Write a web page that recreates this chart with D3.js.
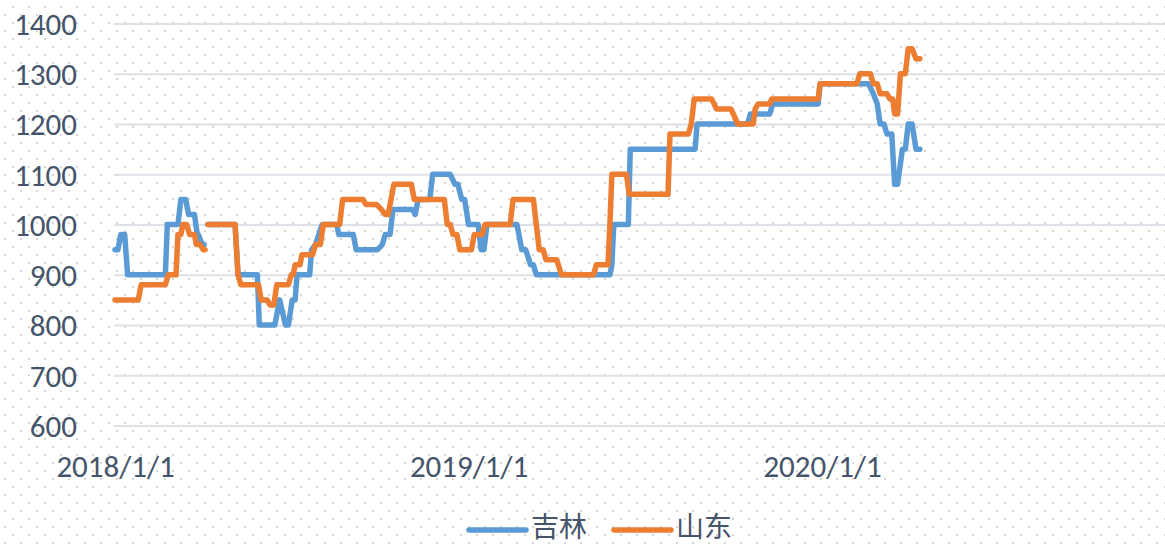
<!DOCTYPE html>
<html>
<head>
<meta charset="utf-8">
<script src="https://cdn.jsdelivr.net/npm/d3@7/dist/d3.min.js"></script>
<style>
  html, body { margin: 0; padding: 0; background: #fff; }
  svg { display: block; }
</style>
</head>
<body>
<svg id="chart" width="1165" height="544"></svg>
<script>
// Price observations (元/吨) for two provinces; null marks a break in the series.
const jilinDates = [
  "2018-01-01","2018-01-04","2018-01-07","2018-01-11","2018-01-14","2018-02-22","2018-02-24",
  "2018-03-07","2018-03-10","2018-03-15","2018-03-18","2018-03-24","2018-03-27","2018-03-28",
  "2018-04-01","2018-04-03","2018-04-05","2018-04-07","2018-05-05","2018-05-08","2018-05-28",
  "2018-05-30","2018-06-15","2018-06-20","2018-06-26","2018-06-29","2018-07-03","2018-07-06",
  "2018-07-08","2018-07-21","2018-07-23","2018-07-27","2018-08-03","2018-08-18","2018-08-20",
  "2018-09-04","2018-09-07","2018-09-29","2018-10-04","2018-10-07","2018-10-12","2018-10-15",
  "2018-11-04","2018-11-07","2018-11-10","2018-11-22","2018-11-25","2018-12-13","2018-12-18",
  "2018-12-21","2018-12-25","2018-12-28","2019-01-01","2019-01-11","2019-01-14","2019-01-17",
  "2019-01-20","2019-02-20","2019-02-25","2019-03-01","2019-03-06","2019-03-09","2019-03-12",
  "2019-05-27","2019-05-29","2019-05-31","2019-06-15","2019-06-17","2019-08-23","2019-08-25",
  "2019-10-16","2019-10-19","2019-11-08","2019-11-11","2019-12-28","2019-12-30","2020-02-18",
  "2020-02-23","2020-02-27","2020-03-01","2020-03-05","2020-03-08","2020-03-13","2020-03-16",
  "2020-03-19","2020-03-24","2020-03-27","2020-03-30","2020-04-03","2020-04-07","2020-04-11"
];
const jilinValues = [
  950,950,980,980,900,900,1000,
  1000,1050,1050,1020,1020,980,980,
  960,960,null,1000,1000,900,900,
  800,800,850,800,800,850,850,
  900,900,950,960,1000,1000,980,
  980,950,950,960,980,980,1030,
  1030,1020,1050,1050,1100,1100,1080,
  1080,1050,1050,1000,1000,950,950,
  1000,1000,950,950,920,920,900,
  900,920,1000,1000,1150,1150,1200,
  1200,1220,1220,1240,1240,1280,1280,
  1260,1240,1200,1200,1180,1180,1080,
  1080,1150,1150,1200,1200,1150,1150
];

const shandongDates = [
  "2018-01-01","2018-01-25","2018-01-28","2018-02-22","2018-02-25","2018-03-05","2018-03-07",
  "2018-03-10","2018-03-12","2018-03-16","2018-03-19","2018-03-24","2018-03-26","2018-03-30",
  "2018-04-02","2018-04-04","2018-04-05","2018-04-07","2018-05-05","2018-05-08","2018-05-11",
  "2018-05-29","2018-06-01","2018-06-07","2018-06-10","2018-06-14","2018-06-17","2018-06-29",
  "2018-07-02","2018-07-04","2018-07-06","2018-07-11","2018-07-13","2018-07-24","2018-07-27",
  "2018-08-01","2018-08-04","2018-08-21","2018-08-24","2018-09-14","2018-09-17","2018-09-28",
  "2018-10-03","2018-10-07","2018-10-10","2018-10-13","2018-10-16","2018-11-03","2018-11-06",
  "2018-12-07","2018-12-10","2018-12-13","2018-12-16","2018-12-20","2018-12-23","2019-01-04",
  "2019-01-07","2019-01-15","2019-01-18","2019-02-13","2019-02-16","2019-03-09","2019-03-12",
  "2019-03-15","2019-03-19","2019-03-22","2019-04-02","2019-04-07","2019-05-10","2019-05-13",
  "2019-05-25","2019-05-27","2019-05-29","2019-06-13","2019-06-16","2019-07-26","2019-07-28",
  "2019-08-16","2019-08-19","2019-08-22","2019-09-09","2019-09-14","2019-09-29","2019-10-06",
  "2019-10-22","2019-10-24","2019-10-27","2019-11-08","2019-11-10","2019-12-28","2019-12-30",
  "2020-02-06","2020-02-09","2020-02-20","2020-02-23","2020-02-27","2020-03-01","2020-03-08",
  "2020-03-11","2020-03-14","2020-03-16","2020-03-19","2020-03-22","2020-03-27","2020-03-30",
  "2020-04-03","2020-04-07","2020-04-11"
];
const shandongValues = [
  850,850,880,880,900,900,980,
  980,1000,1000,980,980,960,960,
  950,950,null,1000,1000,900,880,
  880,850,850,840,840,880,880,
  900,900,920,920,940,940,960,
  960,1000,1000,1050,1050,1040,1040,
  1030,1020,1020,1050,1080,1080,1050,
  1050,1000,1000,980,980,950,950,
  980,980,1000,1000,1050,1050,1000,
  950,950,930,930,900,900,920,
  920,1000,1100,1100,1060,1060,1180,
  1180,1200,1250,1250,1230,1230,1200,
  1200,1230,1240,1240,1250,1250,1280,
  1280,1300,1300,1280,1280,1260,1260,
  1250,1250,1220,1220,1300,1300,1350,
  1350,1330,1330
];

const yTicks = [600, 700, 800, 900, 1000, 1100, 1200, 1300, 1400];
const xTicks = ["2018-01-01", "2019-01-01", "2020-01-01"];
const seriesNames = ["吉林", "山东"];
const seriesColors = ["#5b9bd5", "#ed7d31"];

const W = 1165, H = 544;
const plotLeft = 114, plotRight = 1165;
const textColor = "#44546a";
const font = "Carlito, Lato, 'Liberation Sans', sans-serif";
const labelSize = 31;

const parse = d3.utcParse("%Y-%m-%d");
const svg = d3.select("#chart");

// dotted page background
const defs = svg.append("defs");
const pat = defs.append("pattern")
  .attr("id", "dots").attr("patternUnits", "userSpaceOnUse")
  .attr("width", 16).attr("height", 16);
pat.append("rect").attr("x", 12).attr("y", 6).attr("width", 2).attr("height", 2).attr("fill", "#d6d6d6");
pat.append("rect").attr("x", 4).attr("y", 14).attr("width", 2).attr("height", 2).attr("fill", "#d6d6d6");
svg.append("rect").attr("width", W).attr("height", H).attr("fill", "#fff");
svg.append("rect").attr("width", W).attr("height", H).attr("fill", "url(#dots)");

const x = d3.scaleUtc()
  .domain([parse("2018-01-01"), parse("2021-01-01")])
  .range([115, 1176.5]);
const y = d3.scaleLinear().domain([600, 1400]).range([425.5, 23.5]);

// horizontal gridlines + value labels
const yAxis = svg.append("g")
  .attr("transform", `translate(${plotLeft},0)`)
  .call(d3.axisLeft(y).tickValues(yTicks).tickSize(-(plotRight - plotLeft)).tickPadding(37).tickFormat(d3.format("d")));
yAxis.select(".domain").remove();
yAxis.selectAll(".tick line").attr("stroke", "#dde1e7").attr("stroke-width", 2);
yAxis.selectAll(".tick text")
  .attr("fill", textColor).attr("font-family", font).attr("font-size", labelSize).attr("dy", "0.35em");

// date labels
const fmtDate = d => `${d.getUTCFullYear()}/${d.getUTCMonth() + 1}/${d.getUTCDate()}`;
const xAxis = svg.append("g")
  .attr("transform", "translate(0,426)")
  .call(d3.axisBottom(x).tickValues(xTicks.map(parse)).tickSize(0).tickPadding(29).tickFormat(fmtDate));
xAxis.select(".domain").remove();
xAxis.selectAll(".tick text")
  .attr("fill", textColor).attr("font-family", font).attr("font-size", labelSize).attr("dy", "0.71em");

// price lines
const series = [
  { dates: jilinDates, values: jilinValues },
  { dates: shandongDates, values: shandongValues }
];
const line = d3.line()
  .defined(d => d.v != null)
  .x(d => x(d.t))
  .y(d => y(d.v));

series.forEach((s, i) => {
  const pts = s.dates.map((dt, k) => ({ t: parse(dt), v: s.values[k] }));
  svg.append("path")
    .datum(pts)
    .attr("d", line)
    .attr("fill", "none")
    .attr("stroke", seriesColors[i])
    .attr("stroke-width", 5.5)
    .attr("stroke-linejoin", "round")
    .attr("stroke-linecap", "round");
});

// legend
const legendX = [469, 614];
const legend = svg.append("g");
seriesNames.forEach((name, i) => {
  legend.append("line")
    .attr("x1", legendX[i]).attr("x2", legendX[i] + 57)
    .attr("y1", 530).attr("y2", 530)
    .attr("stroke", seriesColors[i]).attr("stroke-width", 5.5).attr("stroke-linecap", "round");
  legend.append("text")
    .attr("x", legendX[i] + 62).attr("y", 537)
    .attr("fill", textColor)
    .attr("font-family", "'Noto Sans CJK SC', sans-serif")
    .attr("font-size", 28)
    .text(name);
});
</script>
</body>
</html>
